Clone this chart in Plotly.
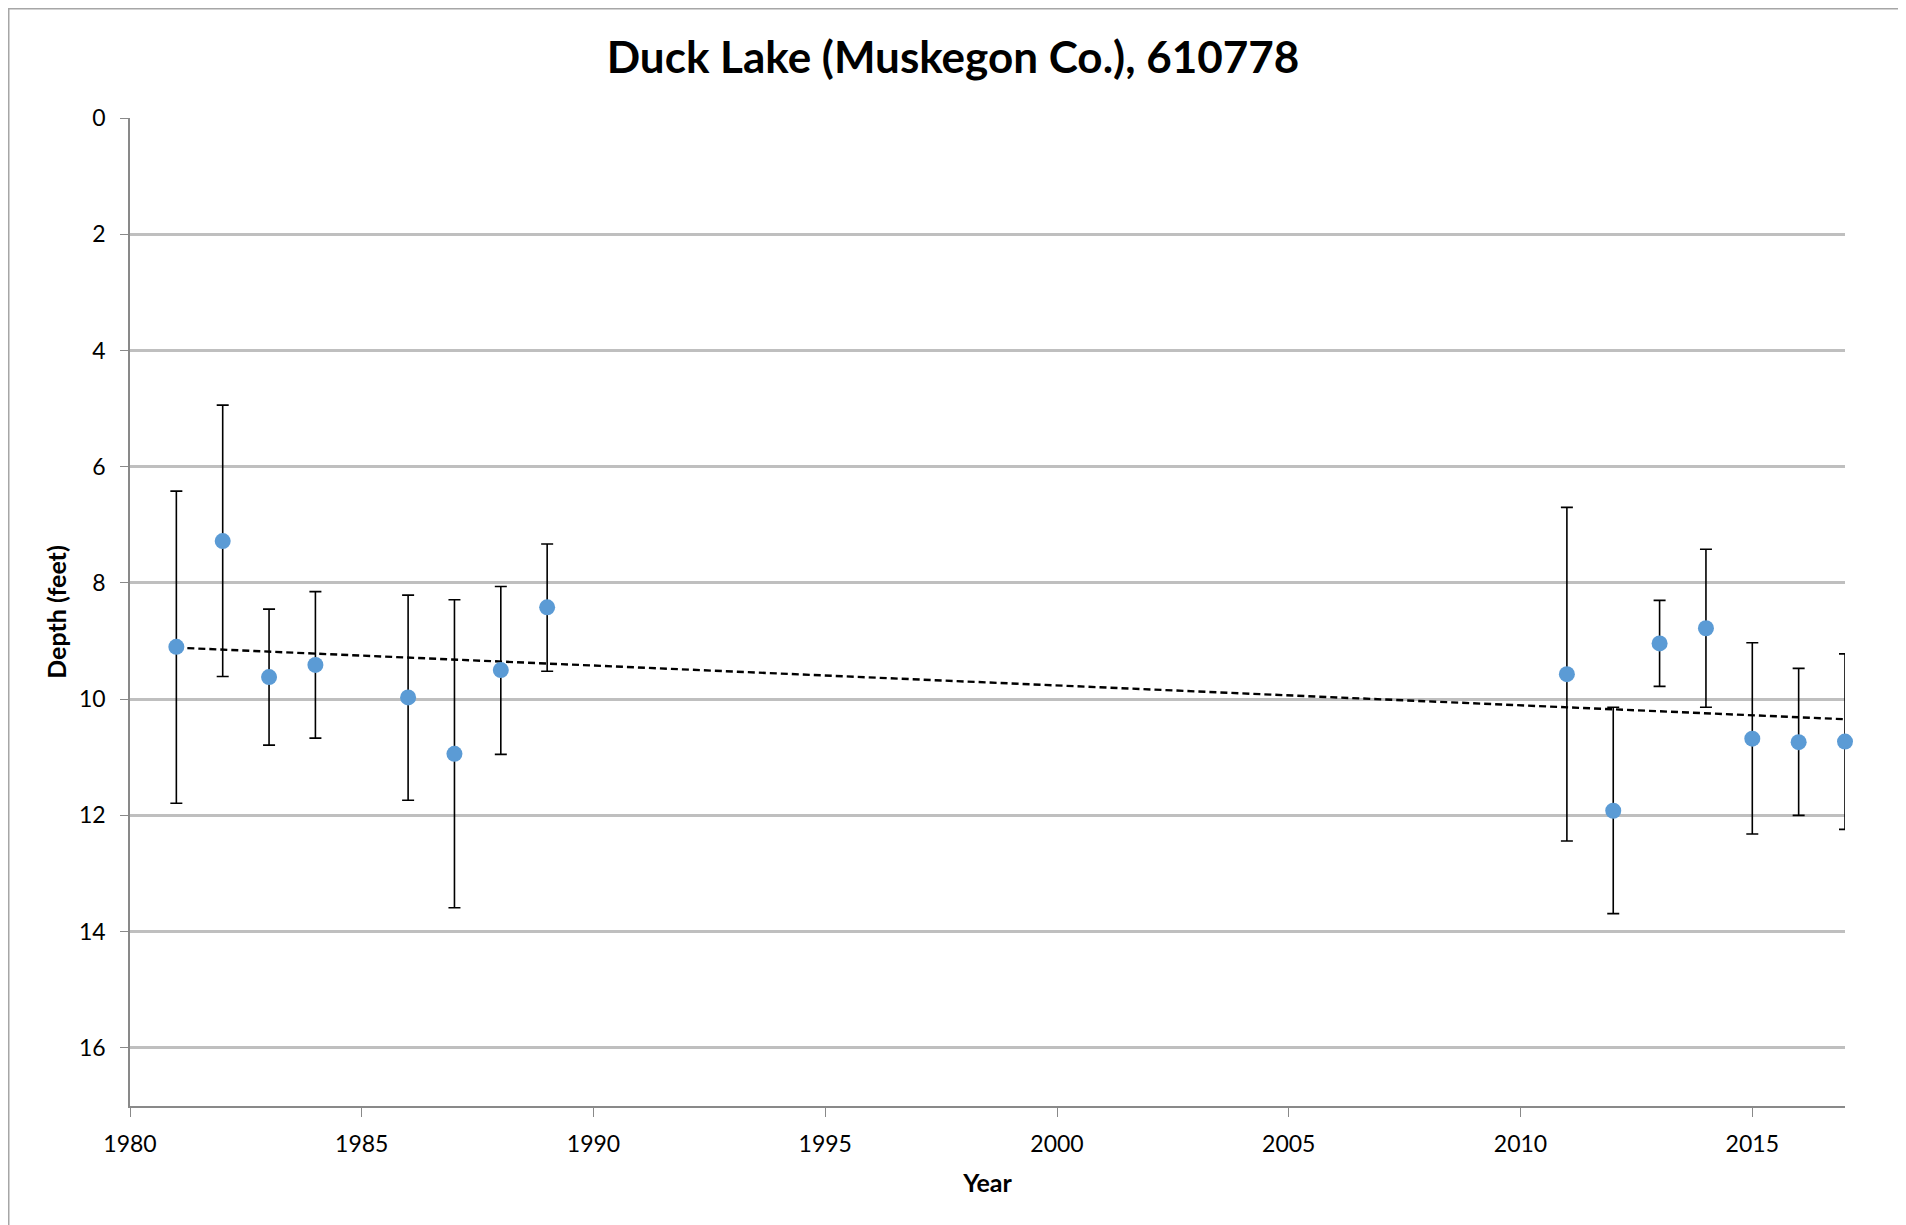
import numpy as np
import plotly.graph_objects as go

# ---- data ----
years = [1981, 1982, 1983, 1984, 1986, 1987, 1988, 1989,
         2011, 2012, 2013, 2014, 2015, 2016, 2017]
depth = [9.10, 7.28, 9.62, 9.41, 9.97, 10.94, 9.50, 8.42,
         9.57, 11.92, 9.04, 8.78, 10.68, 10.74, 10.73]
depth_shallow = [6.42, 4.94, 8.45, 8.15, 8.21, 8.29, 8.06, 7.33,
                 6.70, 10.14, 8.30, 7.42, 9.03, 9.47, 9.22]
depth_deep = [11.79, 9.61, 10.79, 10.67, 11.74, 13.59, 10.95, 9.52,
              12.44, 13.69, 9.78, 10.14, 12.32, 12.00, 12.24]
y_ticks = [0, 2, 4, 6, 8, 10, 12, 14, 16]
x_ticks = [1980, 1985, 1990, 1995, 2000, 2005, 2010, 2015]

title_text = "Duck Lake (Muskegon Co.), 610778"
x_title = "Year"
y_title = "Depth (feet)"

# ---- derived ----
err_plus = [d - m for m, d in zip(depth, depth_deep)]
err_minus = [m - s for m, s in zip(depth, depth_shallow)]
slope, intercept = np.polyfit(years, depth, 1)
trend_x = [min(years), max(years)]
trend_y = [slope * x + intercept for x in trend_x]

# page has an 8px body margin, so figure coords = page coords - 8
W, H = 1898, 1217
L, R, T, B = 122, 61, 110, 119
pw, ph = W - L - R, H - T - B

FONT = "Lato"

fig = go.Figure()
fig.add_trace(go.Scatter(
    x=trend_x, y=trend_y, mode="lines",
    line=dict(color="black", width=2.4, dash="7px,4px"),
    hoverinfo="skip", showlegend=False))
fig.add_trace(go.Scatter(
    x=years, y=depth, mode="markers", cliponaxis=False,
    marker=dict(color="#5b9bd5", size=16, line=dict(width=0)),
    error_y=dict(type="data", symmetric=False, array=err_plus,
                 arrayminus=err_minus, color="black", thickness=1.6, width=6),
    showlegend=False))

fig.update_layout(
    width=W, height=H,
    margin=dict(l=L, r=R, t=T, b=B, autoexpand=False),
    paper_bgcolor="white", plot_bgcolor="white",
    title=dict(text="<b>" + title_text + "</b>", x=(953 - 8) / W, xanchor="center",
               y=1 - 50 / H, yanchor="middle",
               font=dict(family=FONT, size=44, color="black")),
    xaxis=dict(range=[1980, 2017], tickvals=x_ticks, ticks="outside", ticklen=9,
               tickcolor="#898989", tickwidth=1.2,
               showline=True, linecolor="#898989", linewidth=1.5,
               showgrid=False, zeroline=False,
               tickfont=dict(family=FONT, size=23, color="black"),
               ticklabelstandoff=8,
               title=dict(text="<b>" + x_title + "</b>", standoff=18,
                          font=dict(family=FONT, size=25, color="black"))),
    xaxis2=dict(range=[1980, 2017], tickvals=x_ticks, ticks="inside", ticklen=9,
                tickcolor="#898989", tickwidth=1.2, overlaying="x", side="bottom",
                anchor="y", showticklabels=False, showgrid=False, zeroline=False,
                showline=False),
    yaxis=dict(range=[17, 0], tickvals=y_ticks, ticks="outside", ticklen=8,
               tickcolor="#898989", tickwidth=1.2,
               showline=True, linecolor="#898989", linewidth=1.5,
               showgrid=True, gridcolor="#bfbfbf", gridwidth=2.5, zeroline=False,
               tickfont=dict(family=FONT, size=23, color="black"),
               ticklabelstandoff=10,
               title=dict(text="<b>" + y_title + "</b>", standoff=5,
                          font=dict(family=FONT, size=25, color="black"))),
    shapes=[dict(type="rect", xref="paper", yref="paper",
                 x0=(0.75 - L) / pw, x1=(1894 - L) / pw,
                 y0=(H - B - 1240) / ph, y1=(H - B - 0.75) / ph,
                 line=dict(color="#a6a6a6", width=1.5), layer="below")],
)

fig.write_html("out.html")
